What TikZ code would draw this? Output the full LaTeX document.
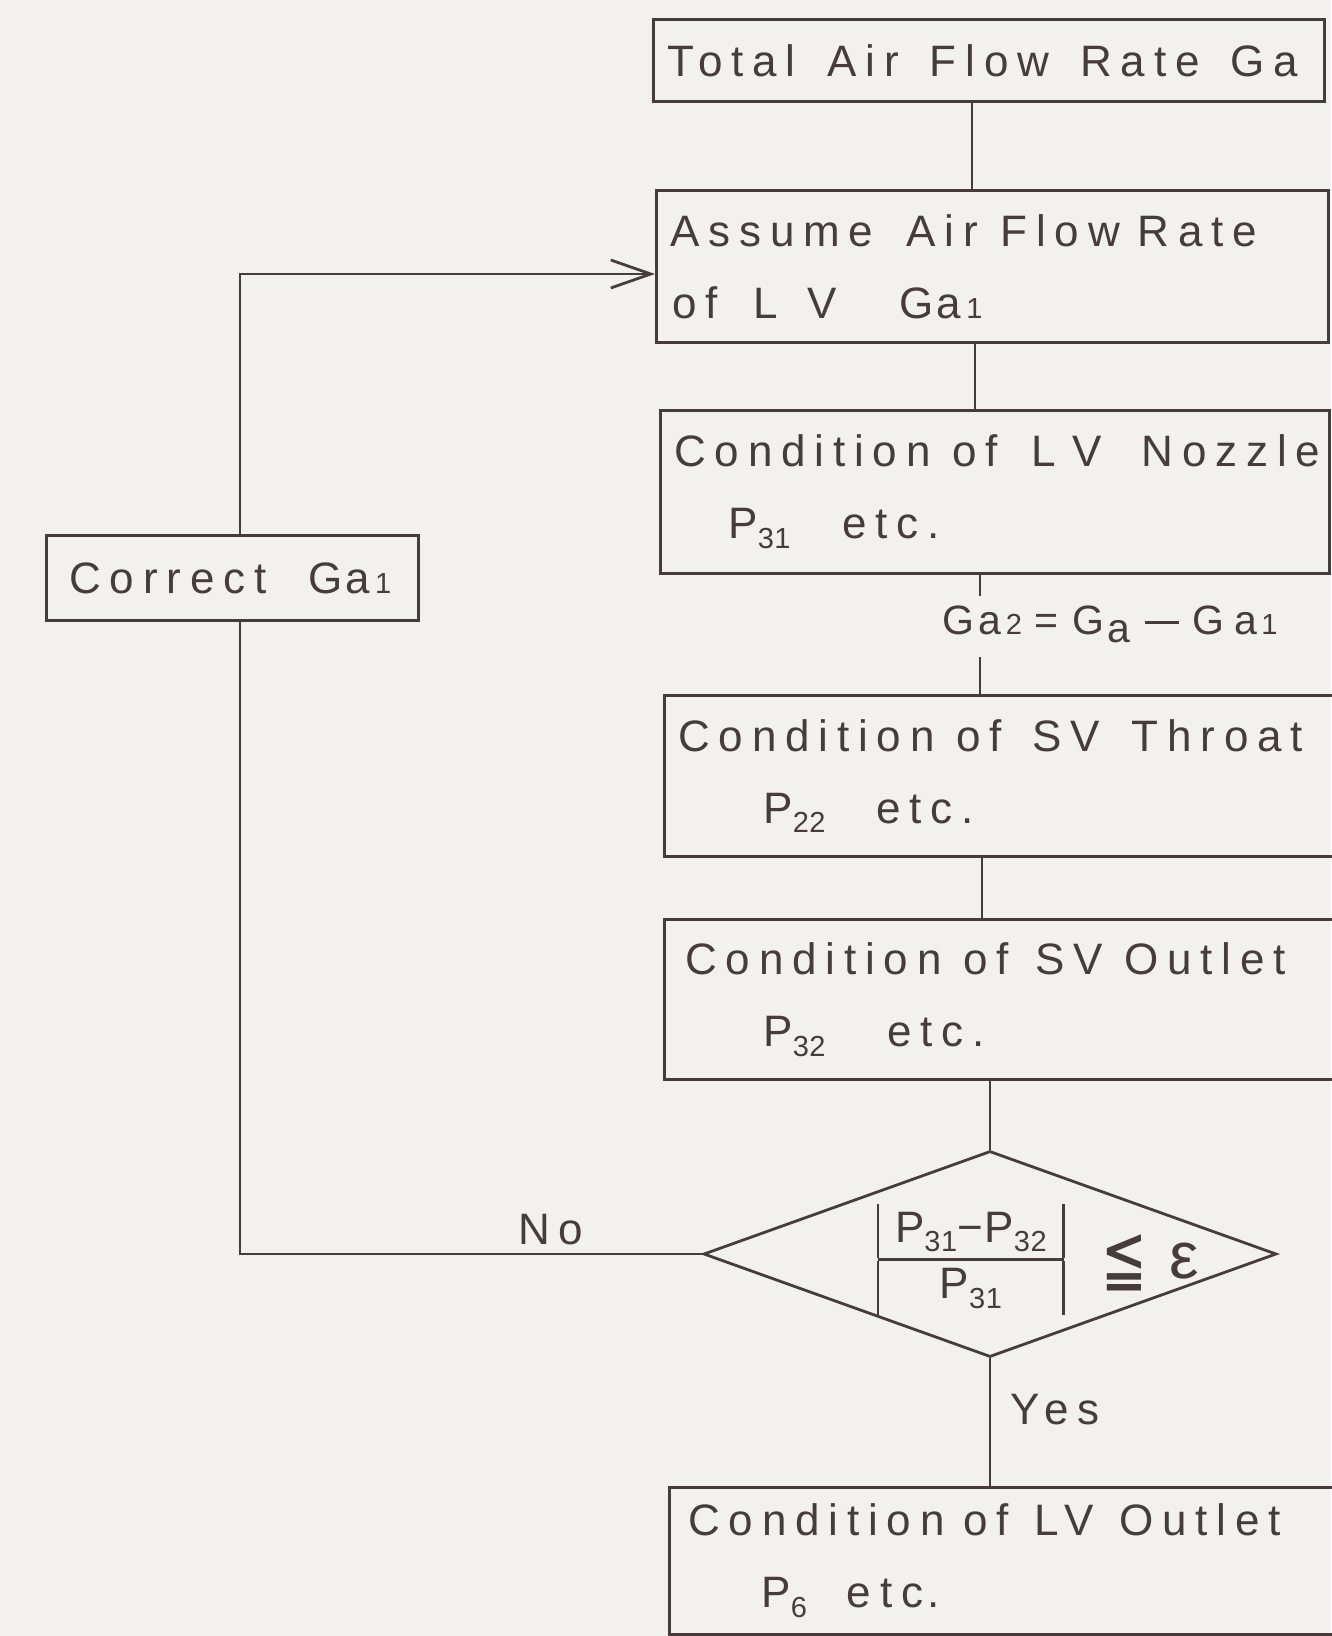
\documentclass[tikz,border=0pt]{standalone}
\usepackage{fontspec}
\setmainfont{Liberation Sans}[LetterSpace=20]
\newfontfamily\symfont{DejaVu Sans}
\usetikzlibrary{arrows.meta,shapes.geometric}
\definecolor{ink}{RGB}{70,60,60}
\definecolor{paper}{RGB}{242,241,240}
\newcommand{\nodefont}{\fontsize{44}{72}\selectfont}
\newcommand{\labelfont}{\fontsize{41}{50}\selectfont\addfontfeature{LetterSpace=3}}
\newcommand{\g}[1]{\hspace{#1pt}}
\newcommand{\dg}[1]{{\fontsize{29}{29}\selectfont\addfontfeature{LetterSpace=2}#1}}
\newcommand{\sub}[1]{\raisebox{-0.22em}{\dg{#1}}}
\newcommand{\Gsub}[1]{G\hspace{3pt}a\hspace{5pt}\dg{#1}}
\newcommand{\leqqsym}{\scalebox{0.7}[1]{\symfont\fontsize{78}{78}\selectfont ≦}}
\begin{document}
\begin{tikzpicture}[x=1pt,y=-1pt,
  every node/.style={font=\nodefont, text=ink},
  box/.style={draw=ink, line width=2.8pt, rectangle, anchor=north west,
              inner xsep=14pt, inner ysep=0pt, align=left},
  conn/.style={draw=ink, line width=2.8pt},
  lbl/.style={anchor=base west, inner sep=0pt}]
\fill[paper] (0,0) rectangle (1331,1636);
\useasboundingbox (0,0) rectangle (1331,1636);

% boxes
\node[box, minimum width=671pt, minimum height=82pt, text width=643pt] (b1) at (652,18)
  {\mbox{Total\g{32}Air\g{31}Flow\g{31}Rate\g{31}Ga}};
\node[box, minimum width=672pt, minimum height=152pt, text width=644pt] (b2) at (655,189)
  {\mbox{Assume\g{33}Air\g{23}Flow\g{18}Rate}\\
   \hspace*{2pt}\mbox{of\g{36}L\g{29}V\g{63}\Gsub{1}}};
\node[box, minimum width=669pt, minimum height=163pt, text width=641pt] (b3) at (659,409)
  {\mbox{Condition\g{22}of\g{33}L\g{17}V\g{40}Nozzle}\\
   \hspace*{54pt}\mbox{P\sub{31}\g{52}etc.}};
\node[box, minimum width=690pt, minimum height=161pt, text width=662pt] (b4) at (663,694)
  {\mbox{Condition\g{22}of\g{30}SV\g{32}Throat}\\
   \hspace*{85pt}\mbox{P\sub{22}\g{51}etc.}};
\node[box, minimum width=690pt, minimum height=160pt, text width=662pt] (b5) at (663,918)
  {\hspace*{7pt}\mbox{Condition\g{22}of\g{26}SV\g{22}Outlet}\\
   \hspace*{85pt}\mbox{P\sub{32}\g{62}etc.}};
\node[box, minimum width=690pt, minimum height=147pt, text width=662pt] (b6) at (668,1486)
  {\hspace*{5pt}\mbox{Condition\g{19}of\g{25}LV\g{26}Outlet}\\
   \hspace*{78pt}\mbox{P\sub{6}\g{40}etc\g{4}.}};
\node[box, minimum width=372pt, minimum height=85pt, text width=344pt] (cor) at (45,534)
  {\hspace*{9pt}\mbox{Correct\g{42}\Gsub{1}}};

% decision
\node[draw=ink, line width=2.8pt, diamond, minimum width=573pt, minimum height=206pt,
      inner sep=0pt] (dec) at (990,1254)
  {\smash{\makebox[0pt][l]{\hspace*{-112pt}\raisebox{-12pt}{\addfontfeature{LetterSpace=4}%
    \setlength{\arrayrulewidth}{2.8pt}\setlength{\tabcolsep}{17pt}%
    \renewcommand{\arraystretch}{0.75}%
    \begin{tabular}{|c|}P\sub{31}−P\sub{32}\\\hline P\sub{31}\end{tabular}}%
    \hspace{38pt}\raisebox{-30pt}{\leqqsym}%
    \hspace{22pt}\raisebox{-24pt}{\fontsize{66}{66}\selectfont ε}}}};

% labels
\node[lbl, font=\labelfont] (ga2) at (942,634)
  {G\g{4}a\g{5}\dg{2}\g{12}=\g{15}G\g{3}\raisebox{-0.2em}{a}\g{14}\rule[10pt]{34pt}{2.8pt}\g{14}G\g{10}a\g{4}\dg{1}};
\node[lbl] (no) at (518,1244) {No};
\node[lbl] (yes) at (1010,1424) {Yes};

% helper coordinates
\coordinate (cA) at (972,0);
\coordinate (cB) at (975,0);
\coordinate (cC) at (980,0);
\coordinate (g2top) at (980,596);
\coordinate (g2bot) at (980,657);
\coordinate (cD) at (982,0);
\coordinate (lx) at (240,0);
\coordinate (ay) at (0,274);

% connectors
\draw[conn] (b1.south -| cA) -- (b2.north -| cA);
\draw[conn] (b2.south -| cB) -- (b3.north -| cB);
\draw[conn] (b3.south -| cC) -- (g2top);
\draw[conn] (g2bot) -- (b4.north -| cC);
\draw[conn] (b4.south -| cD) -- (b5.north -| cD);
\draw[conn] (b5.south -| dec.north) -- (dec.north);
\draw[conn] (dec.south) -- (b6.north -| dec.south);
\draw[conn] (dec.west) -- (dec.west -| lx) -- (cor.south -| lx);
\draw[conn, -{Straight Barb[length=40pt,width=28pt]}] (cor.north -| lx) |- (b2.west |- ay);
\end{tikzpicture}
\end{document}
